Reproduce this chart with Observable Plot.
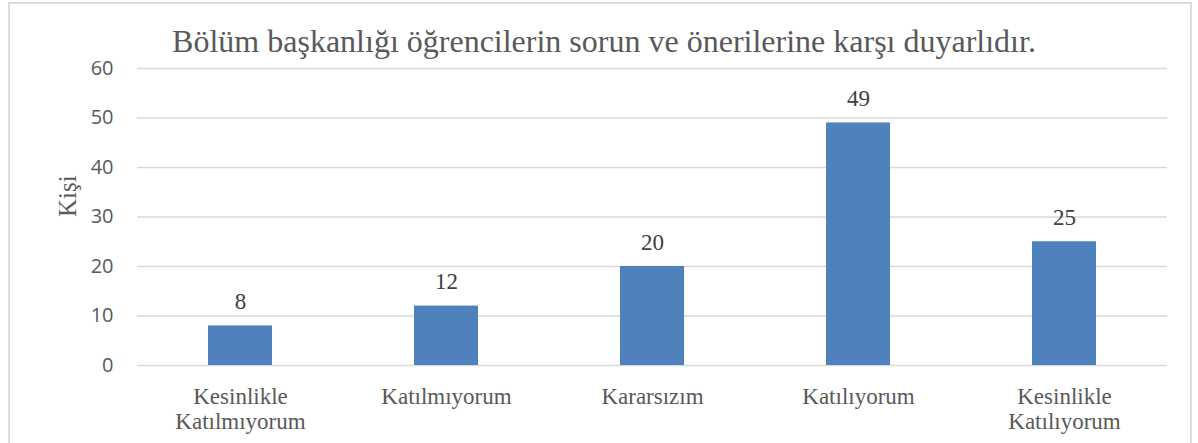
<!DOCTYPE html>
<html>
<head>
<meta charset="utf-8">
<script src="https://cdn.jsdelivr.net/npm/d3@7"></script>
<script src="https://cdn.jsdelivr.net/npm/@observablehq/plot@0.6"></script>
<style>
  html, body { margin: 0; padding: 0; background: #fff; }
  #wrap { position: relative; width: 1198px; height: 443px; overflow: hidden; background: #fff; }
  #frame { position: absolute; left: 8px; top: 2px; width: 1184px; height: 520px; border: 2px solid #dcdcdc; box-sizing: border-box; pointer-events: none; }
  #title { position: relative; height: 46px; box-sizing: border-box; padding-top: 25px; padding-left: 10px; overflow: visible;
           font-family: "Liberation Serif", serif; font-size: 32px; line-height: 32px; color: #595959; text-align: center; white-space: nowrap; }
  #chart { position: relative; }
  #chart svg { display: block; background: transparent; overflow: visible; }
</style>
</head>
<body>
<div id="wrap">
  <div id="frame"></div>
  <div id="title"></div>
  <div id="chart"></div>
</div>
<script>
const titleText = "Bölüm başkanlığı öğrencilerin sorun ve önerilerine karşı duyarlıdır.";
const yLabel = "Kişi";
const categories = ["Kesinlikle\nKatılmıyorum", "Katılmıyorum", "Kararsızım", "Katılıyorum", "Kesinlikle\nKatılıyorum"];
const counts = [8, 12, 20, 49, 25];
const yTicks = [0, 10, 20, 30, 40, 50, 60];

document.getElementById("title").textContent = titleText;

const data = categories.map((c, i) => ({category: c, value: counts[i]}));
const serif = "'Liberation Serif', 'Times New Roman', serif";

const chart = Plot.plot({
  width: 1198,
  height: 397,
  marginLeft: 137,
  marginRight: 31,
  marginTop: 22,
  marginBottom: 78,
  style: {background: "transparent", overflow: "visible"},
  x: {domain: categories, paddingInner: 0.69, paddingOuter: 0.345},
  y: {domain: [0, 60]},
  marks: [
    Plot.ruleY(yTicks, {stroke: "#d9d9d9", strokeWidth: 1.5}),
    Plot.barY(data, {x: "category", y: "value", fill: "#4f81bd"}),
    Plot.text(data, {x: "category", y: "value", text: d => String(d.value), dy: -17, lineAnchor: "bottom",
      fontFamily: serif, fontSize: 23, fill: "#404040"}),
    Plot.axisY({ticks: yTicks, tickSize: 0, tickPadding: 24, label: null,
      fontFamily: "'Open Sans', sans-serif", fontSize: 20, color: "#595959"}),
    Plot.axisX({tickSize: 0, tickPadding: 21, label: null, lineHeight: 1.087,
      fontFamily: serif, fontSize: 23, color: "#595959"}),
    Plot.text([yLabel], {frameAnchor: "left", rotate: -90, dx: -62, lineAnchor: "bottom",
      fontFamily: serif, fontSize: 25, fill: "#595959"})
  ]
});
document.getElementById("chart").appendChild(chart);
</script>
</body>
</html>
